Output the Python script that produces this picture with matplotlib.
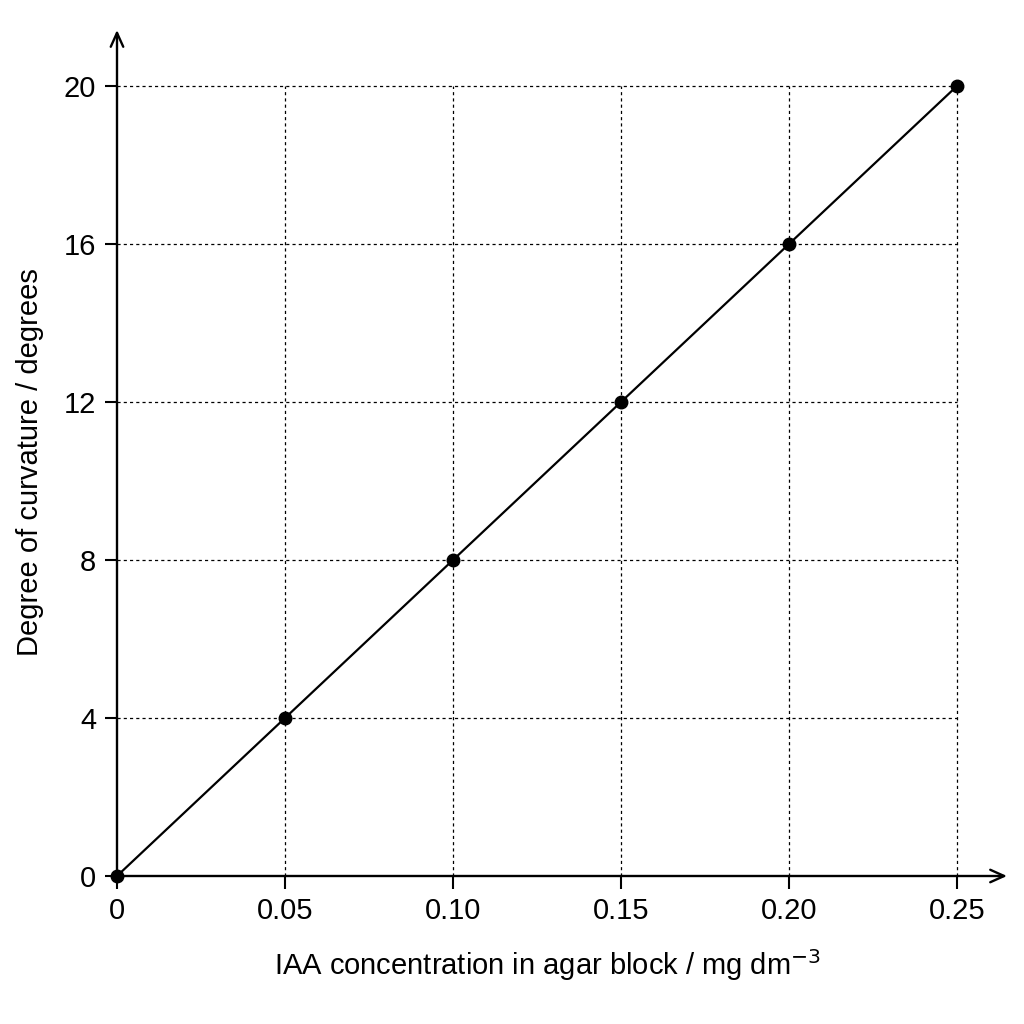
import matplotlib
matplotlib.use("Agg")
import matplotlib.pyplot as plt

plt.rcParams['font.family'] = ['Liberation Sans', 'DejaVu Sans']

# Data
conc = [0, 0.05, 0.10, 0.15, 0.20, 0.25]
curvature = [0, 4, 8, 12, 16, 20]
x_ticks = [0, 0.05, 0.10, 0.15, 0.20, 0.25]
x_tick_labels = ["0", "0.05", "0.10", "0.15", "0.20", "0.25"]
y_ticks = [0, 4, 8, 12, 16, 20]
y_tick_labels = ["0", "4", "8", "12", "16", "20"]

W = H = 1024
fig = plt.figure(figsize=(10.24, 10.24), dpi=100)
x0, y0 = 117, 876
x1, y1 = 1007, 30
ax = fig.add_axes([x0 / W, (H - y0) / H, (x1 - x0) / W, (y0 - y1) / H])

px_per_x = (957 - 117) / 0.25
px_per_y = (876 - 86) / 20
xmax = (x1 - x0) / px_per_x
ymax = (y0 - y1) / px_per_y
ax.set_xlim(0, xmax)
ax.set_ylim(0, ymax)

# grid (dotted, bounded to data range)
ax.vlines(x_ticks[1:], 0, max(y_ticks), colors='black', linestyles=(0, (2.5, 2.5)), linewidth=0.9, zorder=1)
ax.hlines(y_ticks[1:], 0, max(x_ticks), colors='black', linestyles=(0, (2.5, 2.5)), linewidth=0.9, zorder=1)

ax.plot(conc, curvature, color='black', linewidth=1.6, marker='o', markersize=9, zorder=3, clip_on=False)

for s in ['top', 'right', 'left', 'bottom']:
    ax.spines[s].set_visible(False)

# axes with arrows
ax.annotate('', xy=(xmax, 0), xytext=(0, 0),
            arrowprops=dict(arrowstyle='->,head_length=1.0,head_width=0.45', color='black', lw=1.7,
                            shrinkA=0, shrinkB=0), annotation_clip=False)
ax.annotate('', xy=(0, ymax), xytext=(0, 0),
            arrowprops=dict(arrowstyle='->,head_length=1.0,head_width=0.45', color='black', lw=1.7,
                            shrinkA=0, shrinkB=0), annotation_clip=False)

ax.set_xticks(x_ticks)
ax.set_xticklabels(x_tick_labels)
ax.set_yticks(y_ticks)
ax.set_yticklabels(y_tick_labels)
ax.tick_params(axis='both', direction='out', length=9, width=1.5, labelsize=21, pad=6, color='black')

ax.set_xlabel(r"IAA concentration in agar block / mg dm$^{-3}$", fontsize=21)
ax.xaxis.set_label_coords((548 - x0) / (x1 - x0), -(965 - y0) / (y0 - y1))
ax.set_ylabel("Degree of curvature / degrees", fontsize=21)
ax.yaxis.set_label_coords(-(117 - 30) / (x1 - x0), (y0 - 462) / (y0 - y1))
ax.yaxis.label.set_verticalalignment('center')
ax.xaxis.label.set_verticalalignment('center')

fig.savefig("out.png", dpi=100, facecolor='white')
